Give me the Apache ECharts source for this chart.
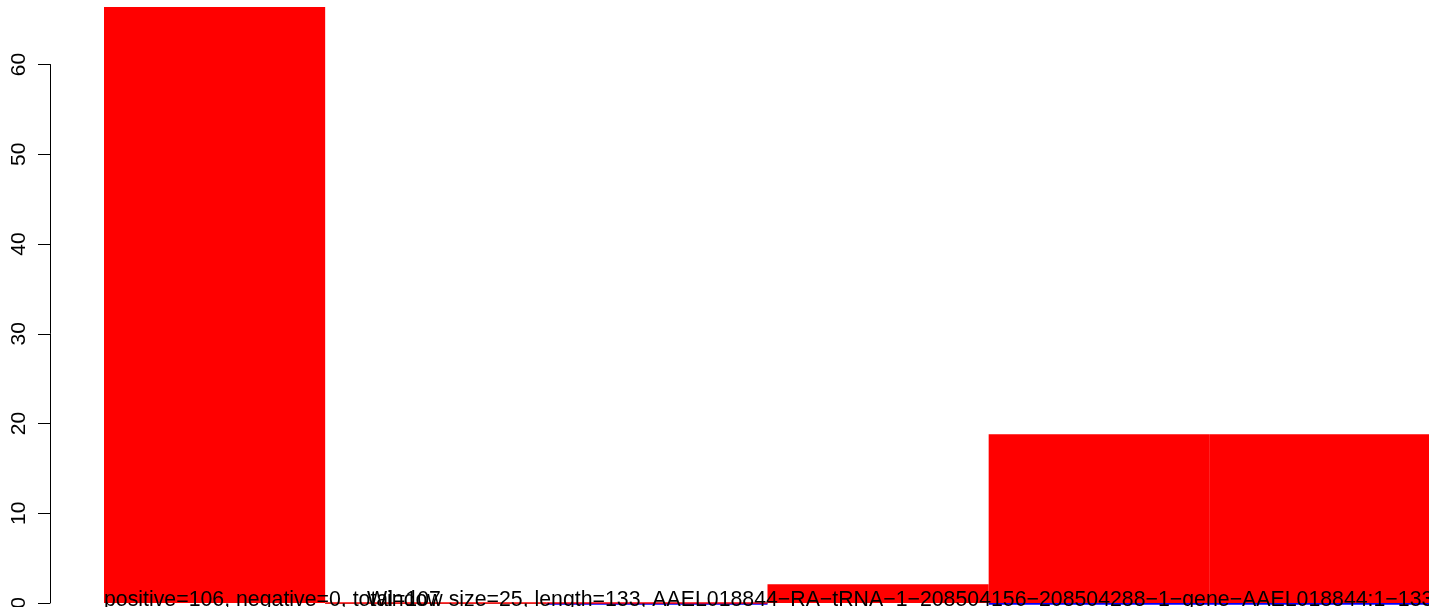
<!DOCTYPE html>
<html>
<head>
<meta charset="utf-8">
<script src="https://cdn.jsdelivr.net/npm/echarts@6/dist/echarts.min.js"></script>
<style>
  html, body { margin: 0; padding: 0; background: #fff; }
  #chart { width: 1429px; height: 607px; }
</style>
</head>
<body>
<div id="chart"></div>
<script>
// windows along the transcript (25 nt each)
const windows = ["1", "2", "3", "4", "5", "6"];
const positive = [66.4, 0, 0, 2.1, 18.8, 18.8];
// thin strips under the zero line
const negative = [0, -0.11, -0.2, 0, -0.2, -0.2];
const negativeColors = ["#0000ff", "#808080", "#0000ff", "#0000ff", "#0000ff", "#0000ff"];
const yTicks = { min: 0, max: 60, step: 10 };

const countsText = "positive=106, negative=0, total=107";
const titleText = "Window size=25, length=133, AAEL018844\u2212RA\u2212tRNA\u22121\u2212208504156\u2212208504288\u22121\u2212gene\u2212AAEL018844:1\u2212133";

const font = "'Liberation Sans', Arial, sans-serif";
const chart = echarts.init(document.getElementById("chart"));

chart.setOption({
  animation: false,
  backgroundColor: "#fff",
  grid: { left: 104, right: -2, top: 64.5, bottom: 4, outerBoundsMode: "none", containLabel: false },
  xAxis: {
    type: "category",
    data: windows,
    axisLine: { show: false },
    axisTick: { show: false },
    axisLabel: { show: false }
  },
  yAxis: {
    type: "value",
    min: yTicks.min,
    max: yTicks.max,
    interval: yTicks.step,
    offset: 54,
    splitLine: { show: false },
    axisLine: { show: true, lineStyle: { color: "#000", width: 1 } },
    axisTick: { show: true, length: 12, lineStyle: { color: "#000", width: 1 } },
    axisLabel: { rotate: 90, margin: 20, fontSize: 21, color: "#000", fontFamily: font }
  },
  series: [
    {
      name: "negative",
      type: "bar",
      barWidth: "100%",
      barGap: "-100%",
      clip: false,
      z: 1,
      data: negative.map((v, i) => ({ value: v, itemStyle: { color: negativeColors[i] } }))
    },
    {
      name: "positive",
      type: "bar",
      barWidth: "100%",
      barGap: "-100%",
      clip: false,
      z: 2,
      itemStyle: { color: "#ff0000", borderColor: "#ff0000", borderWidth: 1.6 },
      data: positive
    }
  ],
  graphic: [
    {
      type: "text", left: 104, top: 589.5, z: 10,
      style: { text: countsText, font: "21.3px " + font, fill: "#000" }
    },
    {
      type: "text", left: 367, top: 589.5, z: 10,
      style: { text: titleText, font: "21.3px " + font, fill: "#000" }
    }
  ]
});
</script>
</body>
</html>
